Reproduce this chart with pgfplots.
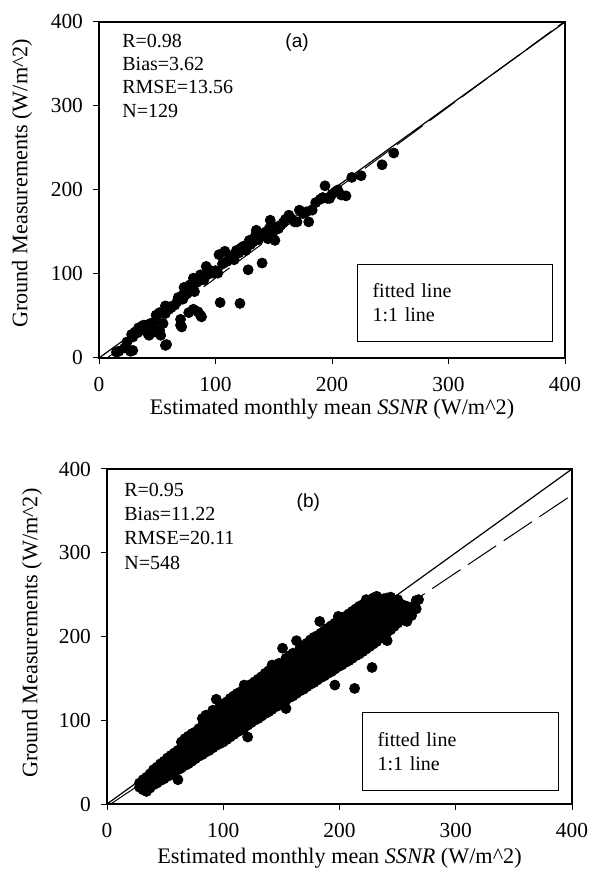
\documentclass[border=0pt]{standalone}
\usepackage{pgfplots}
\pgfplotsset{compat=1.18}
\usepackage{fontspec}
\setmainfont{Liberation Serif}
\newfontfamily\arialfont{Liberation Sans}
\tikzset{stat/.style={anchor=base west, inner sep=0, font=\fontsize{10}{12}\selectfont}}
\pgfplotsset{
  myax/.style={
    scale only axis,
    xmin=0, xmax=400, ymin=0, ymax=400,
    xtick={0,100,200,300,400}, ytick={0,100,200,300,400},
    tick align=outside, xtick pos=bottom, ytick pos=left,
    major tick length=3pt,
    every tick/.style={black, line width=0.5pt},
    axis line style={black, line width=0.6pt},
    /pgf/number format/assume math mode=true,
    ticklabel style={font=\fontsize{10.7}{12}\selectfont},
    xticklabel style={yshift=-3pt},
    yticklabel style={xshift=-1.5pt},
    label style={font=\fontsize{11.1}{13}\selectfont},
    ylabel={Ground Measurements (W/m\textasciicircum2)},
    xlabel={Estimated monthly mean \textit{SSNR} (W/m\textasciicircum2)},
  },
  dots/.style={only marks, mark=*, mark size=2.5pt, black, mark options={fill=black}},
}
\begin{document}
\begin{tikzpicture}
\useasboundingbox (0,0) rectangle (295pt,443pt);
% ---------------- (a) ----------------
\begin{axis}[myax, at={(49.5pt,264pt)}, anchor=south west, width=233pt, height=168pt,
  xlabel style={at={(axis description cs:0.5,0)}, anchor=center, yshift=-25.5pt},
  ylabel style={at={(axis description cs:-0.165,0.52)}, anchor=center}]
\addplot[dots] coordinates {
(15,7) (17,8) (22,12) (24,19) (27,8) (29,9) (29,25) (31,31) (28,28) (33,30) (35,34) (36,33) (38,39)
(39,39) (34,36) (42,29) (43,27) (44,41) (45,41) (46,40) (48,31) (49,45) (49,51) (52,54) (52,33) (53,27)
(55,41) (57,15) (57,53) (57,62) (58,16) (60,58) (61,61) (62,60) (65,63) (67,67) (68,69) (68,72)
(70,39) (70,46) (71,37) (72,70) (72,75) (73,84) (75,76) (76,83) (77,54) (78,87) (80,80) (81,58)
(81,95) (82,79) (84,90) (85,55) (87,51) (87,99) (88,49) (90,93) (92,109) (94,100) (96,104) (98,101)
(100,104) (102,101) (103,123) (104,66) (106,112) (108,127) (110,115) (112,118) (114,122) (116,117)
(118,128) (120,125) (121,65) (122,131) (124,133) (126,128) (128,105) (129,140) (130,135) (132,138)
(134,145) (135,152) (137,141) (138,144) (140,113) (141,148) (143,150) (145,142) (146,154) (147,164)
(149,148) (151,140) (152,156) (154,154) (156,158) (158,161) (160,165) (163,170) (165,166) (168,162)
(170,162) (172,176) (175,172) (178,174) (180,162) (183,176) (186,185) (190,189) (192,191) (194,205)
(196,190) (198,190) (200,195) (203,198) (205,200) (208,194) (212,193) (217,215) (225,217) (243,230)
(253,244)
};
\addplot[black, line width=0.5pt, dash pattern=on 16pt off 4pt] coordinates {(6.9,0) (399,400)};
\addplot[black, line width=0.6pt] coordinates {(0,0) (400,400)};
\node[stat] at (axis cs:19.7,370.2) {R=0.98};
\node[stat] at (axis cs:19.7,342.3) {Bias=3.62};
\node[stat] at (axis cs:19.7,314.3) {RMSE=13.56};
\node[stat] at (axis cs:19.7,286.3) {N=129};
\node[font=\arialfont\fontsize{9.5}{11}\selectfont] at (axis cs:170,376) {(a)};
\node[draw=black, line width=0.5pt, anchor=north west, text width=82.5pt, inner xsep=7.5pt,
  minimum height=38.5pt, align=left, font=\fontsize{10}{12}\selectfont]
  at (axis cs:221.5,112) {fitted line\\1:1 line};
\end{axis}
% ---------------- (b) ----------------
\begin{axis}[myax, at={(53.5pt,41pt)}, anchor=south west, width=232.5pt, height=167.5pt,
  xlabel style={at={(axis description cs:0.5,0)}, anchor=center, yshift=-27pt},
  ylabel style={at={(axis description cs:-0.161,0.51)}, anchor=center}]
\addplot[dots] coordinates {
(28,20) (28,25) (31,17) (31,23) (31,29) (34,15) (34,21) (34,27) (34,32) (37,19) (37,25) (37,31) (37,36)
(40,23) (40,29) (40,35) (40,41) (43,25) (43,32) (43,38) (43,44) (46,28) (46,35) (46,41) (46,48)
(49,30) (49,37) (49,44) (49,51) (52,33) (52,40) (52,47) (52,55) (55,35) (55,43) (55,50) (55,58)
(58,38) (58,46) (58,53) (58,61) (61,29) (61,41) (61,48) (61,56) (61,64)
(64,43) (64,51) (64,59) (64,67) (64,74) (67,46) (67,54) (67,62) (67,70) (67,78)
(70,48) (70,56) (70,64) (70,72) (70,81) (73,51) (73,59) (73,67) (73,75) (73,84)
(76,54) (76,62) (76,70) (76,78) (76,86) (79,57) (79,65) (79,73) (79,81) (79,90)
(82,59) (82,67) (82,76) (82,84) (82,93) (82,102) (85,62) (85,70) (85,79) (85,87) (85,96) (85,106)
(88,64) (88,73) (88,82) (88,90) (88,99) (91,67) (91,76) (91,85) (91,93) (91,102) (91,112)
(94,70) (94,79) (94,88) (94,96) (94,105) (94,125) (97,72) (97,81) (97,90) (97,99) (97,108) (97,116)
(100,74) (100,84) (100,93) (100,102) (100,111) (100,119) (103,77) (103,87) (103,96) (103,105) (103,114) (103,122)
(106,80) (106,89) (106,99) (106,108) (106,117) (106,126) (109,83) (109,92) (109,102) (109,111) (109,120) (109,129)
(112,86) (112,95) (112,105) (112,114) (112,123) (112,132) (115,88) (115,98) (115,108) (115,117) (115,126) (115,134)
(118,91) (118,101) (118,111) (118,120) (118,129) (118,142) (121,80) (121,94) (121,104) (121,113) (121,123) (121,132) (121,140)
(124,97) (124,107) (124,116) (124,126) (124,135) (124,143) (127,100) (127,110) (127,119) (127,129) (127,138) (127,146)
(130,102) (130,112) (130,122) (130,132) (130,141) (130,149) (133,105) (133,115) (133,125) (133,135) (133,144) (133,152)
(136,108) (136,118) (136,128) (136,138) (136,147) (136,156) (139,110) (139,121) (139,131) (139,141) (139,150) (139,159)
(142,113) (142,123) (142,134) (142,144) (142,153) (142,166) (145,116) (145,126) (145,137) (145,147) (145,156) (145,165)
(148,118) (148,129) (148,139) (148,150) (148,159) (148,168) (151,121) (151,132) (151,142) (151,153) (151,162) (151,186)
(154,114) (154,124) (154,135) (154,145) (154,156) (154,165) (154,174) (157,127) (157,138) (157,148) (157,159) (157,168) (157,177)
(160,129) (160,140) (160,151) (160,161) (160,171) (160,180) (163,132) (163,143) (163,154) (163,164) (163,174) (163,195)
(166,135) (166,146) (166,157) (166,167) (166,177) (166,186) (169,137) (169,148) (169,159) (169,170) (169,180) (169,189)
(172,140) (172,151) (172,162) (172,173) (172,183) (172,192) (175,143) (175,154) (175,165) (175,176) (175,186) (175,196)
(178,145) (178,157) (178,168) (178,179) (178,189) (178,199) (181,148) (181,159) (181,171) (181,182) (181,192) (181,201)
(183,218) (184,151) (184,162) (184,173) (184,185) (184,195) (184,204) (187,153) (187,165) (187,176) (187,187) (187,198) (187,207)
(190,156) (190,167) (190,179) (190,190) (190,201) (190,210) (193,158) (193,170) (193,181) (193,193) (193,204) (193,213)
(196,142) (196,161) (196,173) (196,184) (196,196) (196,207) (196,216) (199,164) (199,176) (199,187) (199,199) (199,210) (199,224)
(202,166) (202,178) (202,190) (202,201) (202,212) (202,221) (205,169) (205,181) (205,193) (205,204) (205,215) (205,224)
(208,171) (208,184) (208,195) (208,207) (208,218) (208,227) (211,174) (211,186) (211,198) (211,210) (211,221) (211,230)
(213,138) (214,177) (214,189) (214,201) (214,212) (214,224) (214,233) (217,179) (217,192) (217,204) (217,215) (217,227) (217,236)
(220,182) (220,194) (220,206) (220,218) (220,229) (220,238) (223,185) (223,197) (223,209) (223,221) (223,232) (223,244)
(226,188) (226,200) (226,212) (226,224) (226,235) (226,242) (228,163) (229,191) (229,203) (229,215) (229,227) (229,238) (229,246)
(232,194) (232,206) (232,218) (232,230) (232,241) (232,248) (235,198) (235,209) (235,221) (235,233) (235,243)
(238,201) (238,212) (238,224) (238,235) (238,245) (241,195) (241,205) (241,216) (241,227) (241,237) (241,246)
(244,208) (244,219) (244,230) (244,240) (244,247) (247,212) (247,222) (247,233) (247,242)
(250,216) (250,226) (250,236) (250,244) (254,220) (254,230) (254,238) (258,218) (258,228) (258,236)
(262,225) (262,235) (266,233) (266,243) (268,244)
};
\addplot[black, line width=0.5pt, dash pattern=on 17pt off 4.5pt] coordinates {(3.2,0) (400,369)};
\addplot[black, line width=0.6pt] coordinates {(0,0) (400,400)};
\node[stat] at (axis cs:14.6,367.2) {R=0.95};
\node[stat] at (axis cs:14.6,338.5) {Bias=11.22};
\node[stat] at (axis cs:14.6,309.9) {RMSE=20.11};
\node[stat] at (axis cs:14.6,280) {N=548};
\node[font=\arialfont\fontsize{9.5}{11}\selectfont] at (axis cs:173.2,359.8) {(b)};
\node[draw=black, line width=0.5pt, anchor=north west, text width=83pt, inner xsep=7.5pt,
  minimum height=39pt, align=left, font=\fontsize{10}{12}\selectfont]
  at (axis cs:219.4,109.9) {fitted line\\1:1 line};
\end{axis}
\end{tikzpicture}
\end{document}
